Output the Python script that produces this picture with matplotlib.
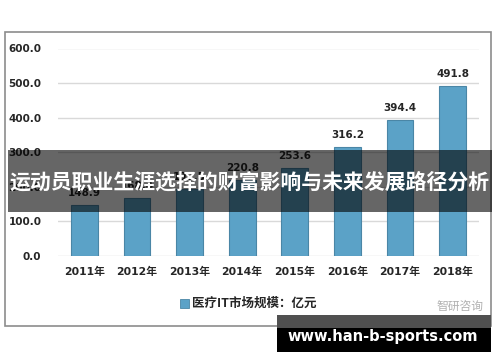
import matplotlib
matplotlib.use('Agg')
import matplotlib.pyplot as plt
from matplotlib.patches import Rectangle

plt.rcParams['font.family'] = ['DejaVu Sans', 'Noto Sans CJK SC']

years = ['2011年', '2012年', '2013年', '2014年', '2015年', '2016年', '2017年', '2018年']
values = [148.9, 168.4, 192.5, 220.8, 253.6, 316.2, 394.4, 491.8]
yticks = [0, 100, 200, 300, 400, 500, 600]
legend_label = '医疗IT市场规模：亿元'
title = '运动员职业生涯选择的财富影响与未来发展路径分析'
site = 'www.han-b-sports.com'

W, H = 500, 362
fig = plt.figure(figsize=(W / 100, H / 100), dpi=100)

def fx(px):
    return px / W

def fy(py):
    return 1 - py / H

# outer chart frame
fig.patches.append(Rectangle((fx(5), fy(326)), fx(486), (326 - 32) / H, transform=fig.transFigure,
                             fill=False, edgecolor='#8c8c8c', lw=1.2, zorder=0))

ax = fig.add_axes([fx(58), fy(256), fx(479 - 58), (256 - 48.5) / H])
x = range(len(years))
bars = ax.bar(x, values, width=0.51, color='#5ba2c7', edgecolor='#4a86a6', lw=0.8, zorder=3)
for xi, v in zip(x, values):
    ax.annotate('%.1f' % v, (xi, v), xytext=(0, 5), textcoords='offset points',
                ha='center', va='bottom', fontsize=7.5, fontweight='bold', color='#262626')

ax.set_xlim(-0.5, len(years) - 0.5)
ax.set_ylim(0, 600)
ax.set_yticks(yticks)
ax.set_yticklabels(['%.1f' % t for t in yticks], fontsize=7.5, fontweight='bold', color='#262626')
ax.set_xticks(list(x))
ax.set_xticklabels(years, fontsize=7.8, fontweight='bold', color='#262626')
ax.tick_params(axis='y', length=0, pad=12)
ax.tick_params(axis='x', length=0, pad=8)
ax.grid(axis='y', color='#d9d9d9', lw=1, zorder=0)
for s in ax.spines.values():
    s.set_visible(False)

# legend
fig.patches.append(Rectangle((fx(180), fy(308)), fx(9), 9 / H, transform=fig.transFigure,
                             facecolor='#5ba2c7', edgecolor='#4a86a6', lw=0.6))
fig.text(fx(192), fy(303.5), legend_label, fontsize=9, fontweight='bold', color='#262626',
         ha='left', va='center', family=['Noto Sans CJK SC', 'DejaVu Sans'])
fig.text(fx(483), fy(306), '智研咨询', fontsize=8.5, color='#b0b0b0', ha='right', va='center',
         family=['Noto Sans CJK SC'])

# title banner
fig.patches.append(Rectangle((fx(8), fy(212)), fx(484), 62 / H, transform=fig.transFigure,
                             facecolor='black', alpha=0.6, edgecolor='none', zorder=5))
fig.text(0.5, fy(182), title, fontsize=15, fontweight='bold', color='white', ha='center', va='center',
         family=['Noto Sans CJK SC', 'DejaVu Sans'], zorder=6)

# site watermark
fig.patches.append(Rectangle((fx(277), fy(328)), fx(214), 13 / H, transform=fig.transFigure,
                             facecolor='#505050', edgecolor='none', zorder=5))
fig.patches.append(Rectangle((fx(277), fy(352)), fx(214), 24 / H, transform=fig.transFigure,
                             facecolor='black', edgecolor='none', zorder=5))
fig.text(fx(383), fy(337), site, fontsize=10.5, fontweight='bold', color='white', ha='center',
         va='center', zorder=6)

fig.savefig('out.png', dpi=100)
